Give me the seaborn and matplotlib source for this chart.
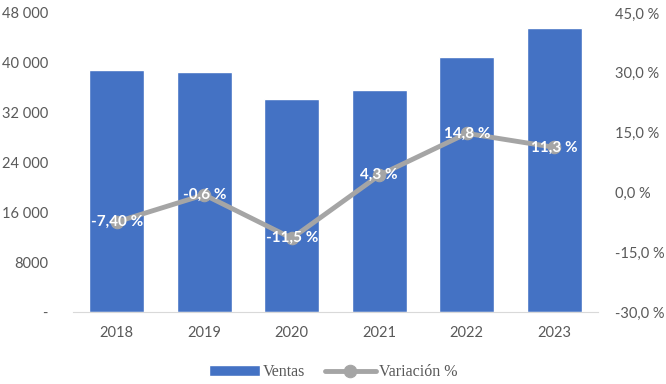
import pandas as pd
import matplotlib
matplotlib.use('Agg')
import matplotlib.pyplot as plt
import seaborn as sns
from matplotlib.ticker import FuncFormatter

years = ['2018', '2019', '2020', '2021', '2022', '2023']
ventas = [38850, 38500, 34200, 35650, 40950, 45600]
variacion = [-7.40, -0.6, -11.5, 4.3, 14.8, 11.3]
var_labels = ['-7,40 %', '-0,6 %', '-11,5 %', '4,3 %', '14,8 %', '11,3 %']

df = pd.DataFrame({'year': years, 'ventas': ventas, 'var': variacion})

sns.set_style('white')
plt.rcParams['font.family'] = ['Lato', 'DejaVu Sans']

bar_color = '#4472C4'
line_color = '#A5A5A5'
tick_color = '#595959'

fig = plt.figure(figsize=(6.66, 3.84), dpi=100)
ax = fig.add_axes([0.1096, 0.1875, 0.7884, 0.7788])

sns.barplot(data=df, x='year', y='ventas', color=bar_color, width=0.63,
            saturation=1, ax=ax, label='Ventas')
ax.set_ylim(0, 48000)
ax.set_yticks(range(0, 48001, 8000))


def left_fmt(v, pos):
    if v == 0:
        return '-'
    if v < 10000:
        return f'{int(v)}'
    return f'{int(v):,}'.replace(',', ' ')


ax.yaxis.set_major_formatter(FuncFormatter(left_fmt))
ax.set_xlim(-0.5, 5.5)
ax.set_xlabel('')
ax.set_ylabel('')

ax2 = ax.twinx()
ax2.set_position(ax.get_position())
sns.lineplot(x=list(range(len(years))), y=variacion, ax=ax2, color=line_color,
             linewidth=3.5, marker='o', markersize=9, markeredgecolor=line_color,
             label='Variación %', legend=False)
ax2.set_ylim(-30, 45)
ax2.set_yticks(range(-30, 46, 15))
ax2.yaxis.set_major_formatter(FuncFormatter(lambda v, p: f'{v:.1f}'.replace('.', ',') + ' %'))

for i, (v, lab) in enumerate(zip(variacion, var_labels)):
    ax2.text(i, v, lab, ha='center', va='center', color='white',
             fontsize=11, fontweight='bold')

for a in (ax, ax2):
    for s in a.spines.values():
        s.set_visible(False)
    a.tick_params(length=0, colors=tick_color, labelsize=10.5)
ax.spines['bottom'].set_visible(True)
ax.spines['bottom'].set_color('#D9D9D9')
ax.tick_params(axis='x', pad=10)
ax.tick_params(axis='y', pad=18)
ax2.tick_params(axis='y', pad=12)

h1, l1 = ax.get_legend_handles_labels()
h2, l2 = ax2.get_legend_handles_labels()
if ax.get_legend() is not None:
    ax.get_legend().remove()
fig.legend(h1 + h2, l1 + l2, loc='center', bbox_to_anchor=(0.5, 0.03),
           ncol=2, frameon=False, handlelength=3.2, columnspacing=1.2,
           handletextpad=0.2, prop={'family': 'Liberation Serif', 'size': 11.5},
           labelcolor=tick_color)

fig.savefig('out.png', dpi=100)
